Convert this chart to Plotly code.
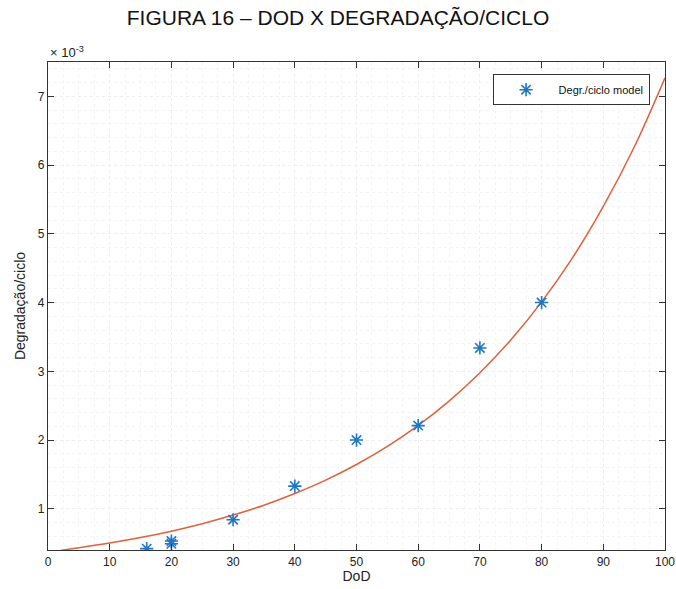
import plotly.graph_objects as go

# Measured degradation per cycle (×10^-3) for each depth of discharge
dod = [16, 20, 20, 30, 40, 50, 60, 70, 80]
degr = [0.42, 0.49, 0.53, 0.84, 1.33, 2.00, 2.21, 3.34, 4.00]

# Fitted model curve (×10^-3)
model_dod = [2, 5, 10, 15, 20, 25, 30, 35, 40, 45, 50, 55, 60, 65, 70, 75, 80, 85, 90, 95, 100]
model_degr = [0.394, 0.432, 0.501, 0.581, 0.674, 0.782, 0.908, 1.052, 1.222, 1.417, 1.644,
              1.907, 2.213, 2.567, 2.98, 3.455, 4.01, 4.65, 5.40, 6.26, 7.27]

x_ticks = [0, 10, 20, 30, 40, 50, 60, 70, 80, 90, 100]
y_ticks = [1, 2, 3, 4, 5, 6, 7]

FONT = "Liberation Sans, Arial"

fig = go.Figure()
fig.add_trace(go.Scatter(
    x=model_dod, y=model_degr, mode="lines",
    line=dict(color="#E0603A", width=1.5, shape="spline", smoothing=1.0),
    showlegend=False, hoverinfo="skip",
))
fig.add_trace(go.Scatter(
    x=dod, y=degr, mode="markers", name="Degr./ciclo model",
    marker=dict(symbol="asterisk-open", size=11, color="#1F77C4",
                line=dict(color="#1F77C4", width=1.6)),
))

axis_common = dict(
    showline=True, linecolor="#333333", linewidth=1.2, mirror="ticks",
    ticks="inside", ticklen=6, tickcolor="#333333", tickwidth=1.2,
    zeroline=False, automargin=False,
    tickfont=dict(family=FONT, size=12, color="#222222"),
    showgrid=True, gridcolor="#eeeeee", griddash="dot", gridwidth=1,
)

fig.update_xaxes(
    range=[0, 100], tickvals=x_ticks, **axis_common,
    minor=dict(dtick=2.5, showgrid=True, gridcolor="#f4f4f4", griddash="dot", ticks=""),
    title=dict(text="DoD", font=dict(family=FONT, size=14, color="#222222"), standoff=2),
)
fig.update_yaxes(
    range=[0.4, 7.5], tickvals=y_ticks, **axis_common,
    minor=dict(dtick=0.2, showgrid=True, gridcolor="#f4f4f4", griddash="dot", ticks=""),
    title=dict(text="Degradação/ciclo", font=dict(family=FONT, size=14, color="#222222"), standoff=8),
)

fig.update_layout(
    width=676, height=589,
    margin=dict(l=48, r=11, t=62, b=39),
    paper_bgcolor="white", plot_bgcolor="white",
    title=dict(text="FIGURA 16 – DOD X DEGRADAÇÃO/CICLO", x=0.5, xanchor="center",
               y=0.97, yanchor="middle",
               font=dict(family=FONT, size=21, color="#111111")),
    legend=dict(x=0.975, y=0.975, xanchor="right", yanchor="top",
                bgcolor="white", bordercolor="#333333", borderwidth=1,
                itemwidth=55,
                font=dict(family=FONT, size=11, color="#111111")),
    annotations=[dict(text="× 10<sup>-3</sup>", xref="paper", yref="paper",
                      x=0, y=1.0, xanchor="left", yanchor="bottom", showarrow=False,
                      font=dict(family=FONT, size=13, color="#222222"))],
)

fig.write_html("out.html")
